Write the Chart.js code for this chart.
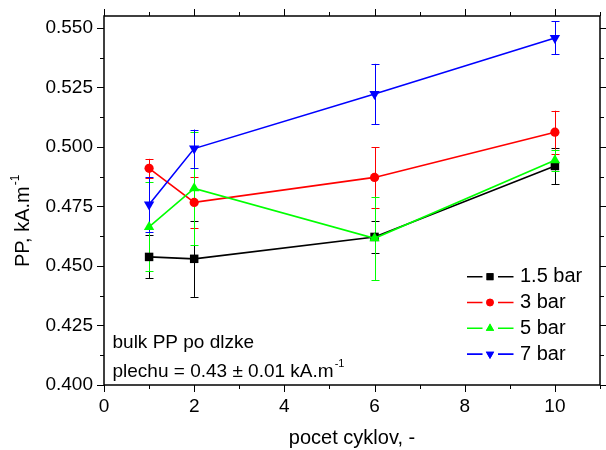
<!DOCTYPE html>
<html><head><meta charset="utf-8">
<script src="https://cdn.jsdelivr.net/npm/chart.js@4.4.1/dist/chart.umd.min.js"></script>
<style>html,body{margin:0;padding:0;background:#fff;overflow:hidden;}</style>
</head><body>
<canvas id="c" width="606" height="450"></canvas>
<script>
// ---- data ----
const cycles = [1, 2, 6, 10];
const seriesNames = ['1.5 bar', '3 bar', '5 bar', '7 bar'];
const pp15 = [0.4538, 0.4530, 0.4622, 0.4920];
const err15 = [0.0090, 0.0160, 0.0068, 0.0076];
const pp3 = [0.4910, 0.4767, 0.4872, 0.5062];
const err3 = [0.0040, 0.0108, 0.0127, 0.0090];
const pp5 = [0.4664, 0.4826, 0.4616, 0.4944];
const err5 = [0.0187, 0.0238, 0.0175, 0.0045];
const pp7 = [0.4758, 0.4993, 0.5222, 0.5458];
const err7 = [0.0114, 0.0080, 0.0127, 0.0069];
const xTickValues = [0, 2, 4, 6, 8, 10];
const yTickValues = [0.400, 0.425, 0.450, 0.475, 0.500, 0.525, 0.550];
const xMinorValues = [1, 3, 5, 7, 9, 11];
const yMinorValues = [0.4125, 0.4375, 0.4625, 0.4875, 0.5125, 0.5375];
const annotationLines = ['bulk PP po dlzke', 'plechu = 0.43 \u00b1 0.01 kA.m'];

const FONT = '"Liberation Sans", Arial, Helvetica, sans-serif';
const colors = ['#000000', '#ff0000', '#00ff00', '#0000ff'];
const styles = [
  {pointStyle: 'rect', radius: 6, rotation: 0},
  {pointStyle: 'circle', radius: 4.6, rotation: 0},
  {pointStyle: 'triangle', radius: 6, rotation: 0},
  {pointStyle: 'triangle', radius: 6, rotation: 180}
];
const allY = [pp15, pp3, pp5, pp7];
const allErr = [err15, err3, err5, err7];

const datasets = allY.map((ys, i) => ({
  label: seriesNames[i],
  data: cycles.map((c, j) => ({x: c, y: ys[j]})),
  errors: allErr[i],
  borderColor: colors[i],
  backgroundColor: colors[i],
  borderWidth: 1.6,
  showLine: true,
  tension: 0,
  pointStyle: styles[i].pointStyle,
  pointRadius: styles[i].radius,
  pointRotation: styles[i].rotation,
  pointBorderWidth: 0,
  pointBackgroundColor: colors[i],
  order: 4 - i
}));

function drawMarker(ctx, style, x, y, r, color) {
  ctx.save();
  ctx.fillStyle = color;
  Chart.helpers.drawPoint(ctx, {pointStyle: style.pointStyle, rotation: style.rotation, borderWidth: 0, radius: r}, x, y);
  ctx.fill();
  ctx.restore();
}

const errorBarPlugin = {
  id: 'errorBars',
  beforeDatasetsDraw(chart) {
    const ctx = chart.ctx, xs = chart.scales.x, ys = chart.scales.y;
    ctx.save();
    ctx.lineWidth = 1;
    chart.data.datasets.forEach((ds) => {
      ctx.strokeStyle = ds.borderColor;
      ds.data.forEach((p, j) => {
        const e = ds.errors[j];
        const px = Math.round(xs.getPixelForValue(p.x)) + 0.5;
        const yt = ys.getPixelForValue(p.y + e);
        const yb = ys.getPixelForValue(p.y - e);
        ctx.beginPath();
        ctx.moveTo(px, yt); ctx.lineTo(px, yb);
        ctx.moveTo(px - 4, Math.round(yt) + 0.5); ctx.lineTo(px + 4, Math.round(yt) + 0.5);
        ctx.moveTo(px - 4, Math.round(yb) + 0.5); ctx.lineTo(px + 4, Math.round(yb) + 0.5);
        ctx.stroke();
      });
    });
    ctx.restore();
  }
};

const framePlugin = {
  id: 'frame',
  afterDraw(chart) {
    const ctx = chart.ctx, a = chart.chartArea, xs = chart.scales.x, ys = chart.scales.y;
    ctx.save();
    ctx.strokeStyle = '#000';
    ctx.lineWidth = 1.5;
    ctx.strokeRect(a.left, a.top, a.right - a.left, a.bottom - a.top);
    ctx.lineWidth = 1;
    ctx.beginPath();
    const MAJ = 7, MIN = 4;
    const xt = (v, len) => {
      const px = Math.round(xs.getPixelForValue(v)) + 0.5;
      ctx.moveTo(px, a.bottom); ctx.lineTo(px, a.bottom + len);
      ctx.moveTo(px, a.top); ctx.lineTo(px, a.top - len);
    };
    const yt = (v, len) => {
      const py = Math.round(ys.getPixelForValue(v)) + 0.5;
      ctx.moveTo(a.left, py); ctx.lineTo(a.left - len, py);
      ctx.moveTo(a.right, py); ctx.lineTo(a.right + len, py);
    };
    xTickValues.forEach(v => xt(v, MAJ));
    xMinorValues.forEach(v => xt(v, MIN));
    yTickValues.forEach(v => yt(v, MAJ));
    yMinorValues.forEach(v => yt(v, MIN));
    ctx.stroke();

    // y-axis title with superscript
    ctx.fillStyle = '#000';
    ctx.save();
    ctx.translate(28.5, 267);
    ctx.rotate(-Math.PI / 2);
    ctx.font = '20px ' + FONT;
    ctx.textAlign = 'left';
    ctx.textBaseline = 'alphabetic';
    const t = 'PP, kA.m';
    ctx.fillText(t, 0, 0);
    const w = ctx.measureText(t).width;
    ctx.font = '12px ' + FONT;
    ctx.fillText('-1', w + 1, -10);
    ctx.restore();

    // annotation text
    ctx.font = '19px ' + FONT;
    ctx.textAlign = 'left';
    ctx.textBaseline = 'alphabetic';
    ctx.fillText(annotationLines[0], 112.5, 347.5);
    ctx.fillText(annotationLines[1], 112.5, 377);
    const w2 = ctx.measureText(annotationLines[1]).width;
    ctx.font = '11px ' + FONT;
    ctx.fillText('-1', 112.5 + w2 + 1, 367);

    // legend
    chart.data.datasets.forEach((ds, i) => {
      const cy = 276.7 + i * 25.8;
      ctx.strokeStyle = ds.borderColor;
      ctx.lineWidth = 1.6;
      ctx.beginPath();
      ctx.moveTo(467, cy); ctx.lineTo(482.5, cy);
      ctx.moveTo(498, cy); ctx.lineTo(513.5, cy);
      ctx.stroke();
      const st = styles[i];
      const r = st.pointStyle === 'rect' ? 4.9 : (st.pointStyle === 'circle' ? 3.7 : 4.8);
      drawMarker(ctx, st, 490, cy, r, ds.borderColor);
      ctx.fillStyle = '#000';
      ctx.font = '20px ' + FONT;
      ctx.fillText(ds.label, 520, cy + 5.5);
    });
    ctx.restore();
  }
};

new Chart(document.getElementById('c'), {
  type: 'scatter',
  data: {datasets},
  options: {
    responsive: false,
    animation: false,
    devicePixelRatio: 1,
    layout: {padding: {top: 16, right: 5, left: 0, bottom: 0}},
    plugins: {legend: {display: false}, tooltip: {enabled: false}},
    scales: {
      x: {
        type: 'linear', min: 0, max: 11,
        ticks: {stepSize: 2, color: '#000', font: {family: FONT, size: 19}, padding: 3, maxRotation: 0,
          callback: v => String(v)},
        afterBuildTicks: s => { s.ticks = xTickValues.map(v => ({value: v})); },
        afterFit: s => { s.height = 65; },
        grid: {display: true, drawOnChartArea: false, drawTicks: true, tickLength: 7, color: 'rgba(0,0,0,0)'},
        border: {display: false},
        title: {display: true, text: 'pocet cyklov, -', color: '#000', font: {family: FONT, size: 20}, padding: {top: 0, bottom: 0}}
      },
      y: {
        type: 'linear', min: 0.4, max: 0.555,
        ticks: {stepSize: 0.025, color: '#000', font: {family: FONT, size: 19}, padding: 4,
          callback: v => Number(v).toFixed(3)},
        afterBuildTicks: s => { s.ticks = yTickValues.map(v => ({value: v})); },
        afterFit: s => { s.width = 104; },
        grid: {display: true, drawOnChartArea: false, drawTicks: true, tickLength: 7, color: 'rgba(0,0,0,0)'},
        border: {display: false}
      }
    }
  },
  plugins: [errorBarPlugin, framePlugin]
});
</script>
</body></html>
